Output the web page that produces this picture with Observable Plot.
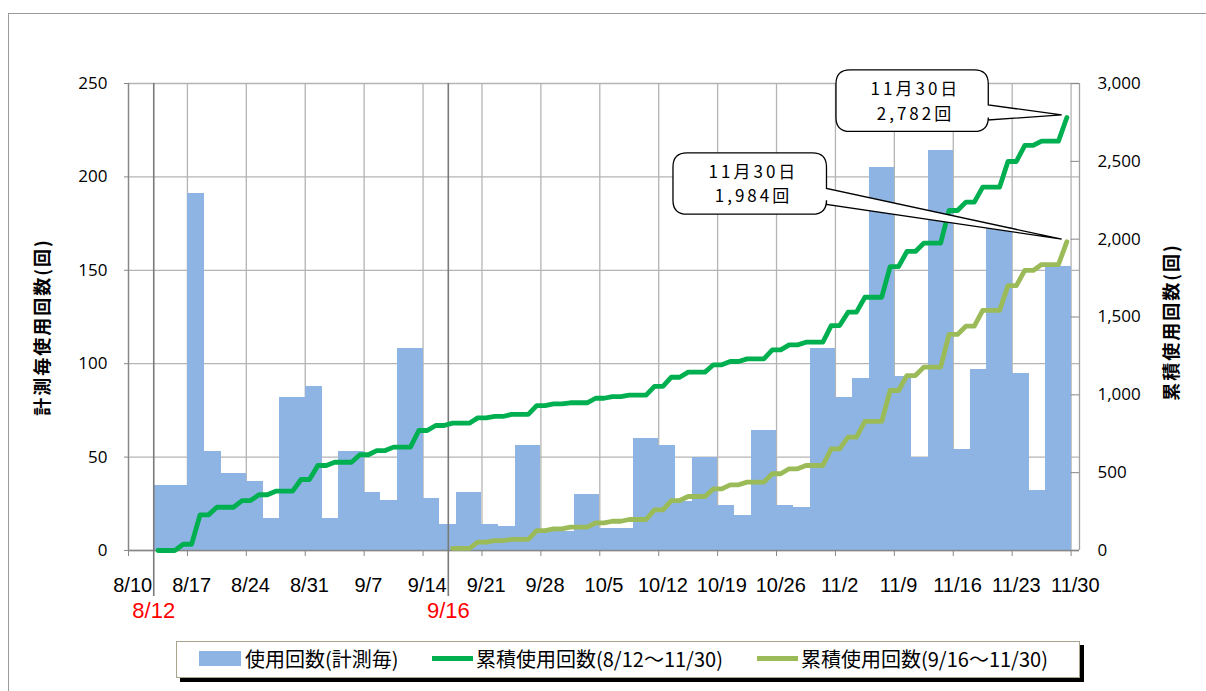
<!DOCTYPE html>
<html><head><meta charset="utf-8">
<script src="https://cdn.jsdelivr.net/npm/d3@7"></script>
<script src="https://cdn.jsdelivr.net/npm/@observablehq/plot@0.6"></script>
<style>
html,body{margin:0;padding:0;background:#fff;overflow:hidden;}
#wrap{position:relative;width:1206px;height:691px;overflow:hidden;background:#fff;}
#chart{position:absolute;left:0;top:0;}
#frame{position:absolute;left:8px;top:13px;width:1400px;height:900px;border:1.5px solid #9a9a9a;box-sizing:border-box;pointer-events:none;}
#legendBox{position:absolute;left:176px;top:641px;width:904px;height:37px;border:1.5px solid #a8a58c;box-shadow:4px 4px 0 #000;background:#fff;box-sizing:border-box;}
.lg{position:absolute;font-family:"Noto Sans CJK JP",sans-serif;font-size:20px;line-height:20px;color:#000;white-space:nowrap;}
.sw{position:absolute;}
</style></head><body>
<div id="wrap"><div id="chart"></div><div id="frame"></div><div id="legendBox"></div></div>
<script>
// ---------- data ----------
const startDate = "2010-08-12";          // measurement start (8/12)
const secondStart = "2010-09-16";        // second period start (9/16)
const measureDates = ["2010-08-16","2010-08-18","2010-08-20","2010-08-23","2010-08-25","2010-08-27","2010-08-30","2010-09-01","2010-09-03","2010-09-06","2010-09-08","2010-09-10","2010-09-13","2010-09-15","2010-09-17","2010-09-20","2010-09-22","2010-09-24","2010-09-27","2010-09-29","2010-10-01","2010-10-04","2010-10-06","2010-10-08","2010-10-11","2010-10-13","2010-10-15","2010-10-18","2010-10-20","2010-10-22","2010-10-25","2010-10-27","2010-10-29","2010-11-01","2010-11-03","2010-11-05","2010-11-08","2010-11-10","2010-11-12","2010-11-15","2010-11-17","2010-11-19","2010-11-22","2010-11-24","2010-11-26","2010-11-29"];
const usage = [35,191,53,41,37,17,82,88,17,53,31,27,108,28,14,31,14,13,56,11,10,30,12,12,60,56,26,50,24,19,64,24,23,108,82,92,205,93,50,214,54,97,173,95,32,152];
const cumAllDates = ["2010-08-13"].concat(measureDates);
const cumAll = [0,40,229,278,321,358,381,456,546,567,615,642,664,771,803,818,852,861,874,931,942,949,978,989,998,1054,1113,1146,1193,1214,1231,1289,1321,1338,1445,1531,1627,1824,1921,1974,2184,2238,2334,2499,2602,2630,2782];
const cumSecondDates = measureDates.slice(14);
const cumSecond = [14,54,64,71,128,139,150,178,188,199,261,321,347,396,422,439,493,525,546,653,728,829,1028,1124,1178,1388,1441,1542,1702,1799,1837,1984];
const tickDates = ["2010-08-10","2010-08-17","2010-08-24","2010-08-31","2010-09-07","2010-09-14","2010-09-21","2010-09-28","2010-10-05","2010-10-12","2010-10-19","2010-10-26","2010-11-02","2010-11-09","2010-11-16","2010-11-23","2010-11-30"];
const leftTicks = [0,50,100,150,200,250];
const rightTicks = [0,500,1000,1500,2000,2500,3000];
const markerDates = [startDate, secondStart];
const markerLabels = ["8/12","9/16"];
const seriesNames = ["使用回数(計測毎)","累積使用回数(8/12～11/30)","累積使用回数(9/16～11/30)"];
const seriesColors = ["#8eb4e3","#00b050","#9bbb59"];
const leftTitle = "計測毎使用回数(回)";
const rightTitle = "累積使用回数(回)";
const calloutDate = "11月30日";
const calloutValues = ["2,782回","1,984回"];

// ---------- helpers ----------
const DAY = 864e5;
const parse = s => new Date(s + "T00:00:00Z");
const noon = d => new Date(+d + DAY / 2);
const endOfDay = d => new Date(+d + DAY);
const RATIO = 3000 / 250;
const xStart = parse("2010-08-10"), xEnd = parse("2010-12-01");

const bars = measureDates.map((s, i) => ({
  x1: endOfDay(parse(i ? measureDates[i - 1] : startDate)),
  x2: endOfDay(parse(s)),
  y: usage[i]
}));
function stepPts(dates, values) {
  const pts = [{x: noon(parse(dates[0])), y: values[0] / RATIO}];
  for (let i = 1; i < dates.length; i++) {
    const d = parse(dates[i]);
    pts.push({x: noon(new Date(+d - DAY)), y: values[i - 1] / RATIO});
    pts.push({x: noon(d), y: values[i] / RATIO});
  }
  return pts;
}
const allPts = stepPts(cumAllDates, cumAll);
const secondPts = stepPts(cumSecondDates, cumSecond);

const callouts = [
  {date: cumAllDates[cumAllDates.length - 1], value: cumAll[cumAll.length - 1], text: [calloutDate, calloutValues[0]],
   box: {l: -225.7, r: -73.4, t: -45, b: 16.5, w1: -10, w2: 5, tx: -147.7, ty1: -27, ty2: -2}},
  {date: cumSecondDates[cumSecondDates.length - 1], value: cumSecond[cumSecond.length - 1], text: [calloutDate, calloutValues[1]],
   box: {l: -388.7, r: -235.2, t: -86.3, b: -25, w1: -50.7, w2: -34.7, tx: -309.7, ty1: -68.5, ty2: -44.5}}
];

function calloutMark(index, scales) {
  const g = d3.create("svg:g");
  for (const c of callouts) {
    const px = scales.x(noon(parse(c.date))) - 4.7;
    const py = scales.y(c.value / RATIO) - 2;
    const b = c.box, r = 14;
    const L = px + b.l, R = px + b.r, T = py + b.t, B = py + b.b;
    const p = `M${L + r},${T}H${R - r}Q${R},${T} ${R},${T + r}V${py + b.w1}L${px},${py}L${R},${py + b.w2}V${B - r}Q${R},${B} ${R - r},${B}H${L + r}Q${L},${B} ${L},${B - r}V${T + r}Q${L},${T} ${L + r},${T}Z`;
    g.append("path").attr("d", p).attr("fill", "#fff").attr("stroke", "#000").attr("stroke-width", 1.3);
    [[c.text[0], b.ty1], [c.text[1], b.ty2]].forEach(([t, dy]) => {
      g.append("text").attr("x", px + b.tx + 1.5).attr("y", py + dy)
        .attr("text-anchor", "middle").attr("dominant-baseline", "central")
        .attr("font-family", "'Noto Sans CJK JP', sans-serif").attr("font-size", 17)
        .attr("letter-spacing", "3px").attr("fill", "#000").text(t);
    });
  }
  return g.node();
}

const grid = "#b4b4b4", axisCol = "#878787";
const fmt = d3.utcFormat("%-m/%-d");

const chart = Plot.plot({
  width: 1206, height: 640,
  marginLeft: 128, marginRight: 127, marginTop: 83, marginBottom: 90,
  style: {fontFamily: "'Open Sans', sans-serif", fontSize: "17px", color: "#000", background: "transparent", overflow: "visible"},
  x: {type: "utc", domain: [xStart, xEnd]},
  y: {domain: [0, 250], nice: false},
  marks: [
    Plot.gridY({ticks: leftTicks, stroke: grid, strokeOpacity: 1, strokeWidth: 1.3}),
    Plot.gridX({ticks: tickDates.map(parse), stroke: grid, strokeOpacity: 1, strokeWidth: 1.3}),
    Plot.rectY(bars, {x1: "x1", x2: "x2", y: "y", fill: seriesColors[0], shapeRendering: "crispEdges"}),
    Plot.ruleX([xStart], {stroke: axisCol, strokeWidth: 1.3}),
    Plot.ruleX([xEnd], {stroke: "#a0a0a0", strokeWidth: 1.3}),
    Plot.ruleY([0], {stroke: axisCol, strokeWidth: 1.3}),
    Plot.axisX({ticks: tickDates.map(parse), tickSize: 6, tickFormat: () => "", stroke: axisCol, label: null}),
    Plot.axisX({ticks: tickDates.map(d => noon(parse(d))), tickSize: 0, tickPadding: 27, tickFormat: fmt,
      fontSize: 20, fontFamily: "'Liberation Sans', sans-serif", label: null}),
    Plot.axisY({ticks: leftTicks, anchor: "left", tickSize: 4, tickPadding: 17, stroke: axisCol, label: null, fontSize: 17}),
    Plot.axisY({ticks: rightTicks.map(v => v / RATIO), anchor: "right", tickSize: 0, tickPadding: 18,
      tickFormat: d => d3.format(",")(Math.round(d * RATIO)), label: null, fontSize: 17}),
    Plot.ruleY(rightTicks.map(v => v / RATIO), {x1: parse(tickDates[tickDates.length - 1]), x2: xEnd, stroke: axisCol}),
    Plot.ruleX(markerDates, {x: d => endOfDay(parse(d)), insetBottom: -46, stroke: "#7a7a7a", strokeWidth: 1.6}),
    Plot.text(markerDates, {x: d => endOfDay(parse(d)), text: (d, i) => markerLabels[i], frameAnchor: "bottom", dy: 67,
      fill: "#ff0000", fontSize: 22, fontFamily: "'Liberation Sans', sans-serif"}),
    Plot.line(allPts, {x: "x", y: "y", stroke: seriesColors[1], strokeWidth: 4.8, strokeLinejoin: "round"}),
    Plot.line(secondPts, {x: "x", y: "y", stroke: seriesColors[2], strokeWidth: 4.8, strokeLinejoin: "round"}),
    Plot.text([leftTitle], {text: d => d, frameAnchor: "left", textAnchor: "middle", dx: -85, dy: 10, rotate: -90, fontWeight: "bold",
      fontSize: 18, fontFamily: "'Noto Sans CJK JP', sans-serif"}),
    Plot.text([rightTitle], {text: d => d, frameAnchor: "right", textAnchor: "middle", dx: 93, dy: 5, rotate: -90, fontWeight: "bold",
      fontSize: 18, fontFamily: "'Noto Sans CJK JP', sans-serif"}),
    calloutMark
  ]
});
d3.select(chart).selectAll("text").each(function() {
  const t = this.textContent;
  if (t === leftTitle || t === rightTitle) d3.select(this).attr("letter-spacing", "2px");
});
document.getElementById("chart").appendChild(chart);

// ---------- legend ----------
const wrap = document.getElementById("wrap");
const items = [
  {sx: 199, sy: 651, sw: 42, sh: 15, tx: 245},
  {sx: 432, sy: 656, sw: 41, sh: 5, tx: 476},
  {sx: 757, sy: 656, sw: 41, sh: 5, tx: 801}
];
items.forEach((it, i) => {
  const s = document.createElement("div");
  s.className = "sw";
  Object.assign(s.style, {left: it.sx + "px", top: it.sy + "px", width: it.sw + "px", height: it.sh + "px", background: seriesColors[i]});
  wrap.appendChild(s);
  const t = document.createElement("div");
  t.className = "lg";
  t.textContent = seriesNames[i];
  Object.assign(t.style, {left: it.tx + "px", top: "649px"});
  wrap.appendChild(t);
});
</script>
</body></html>
